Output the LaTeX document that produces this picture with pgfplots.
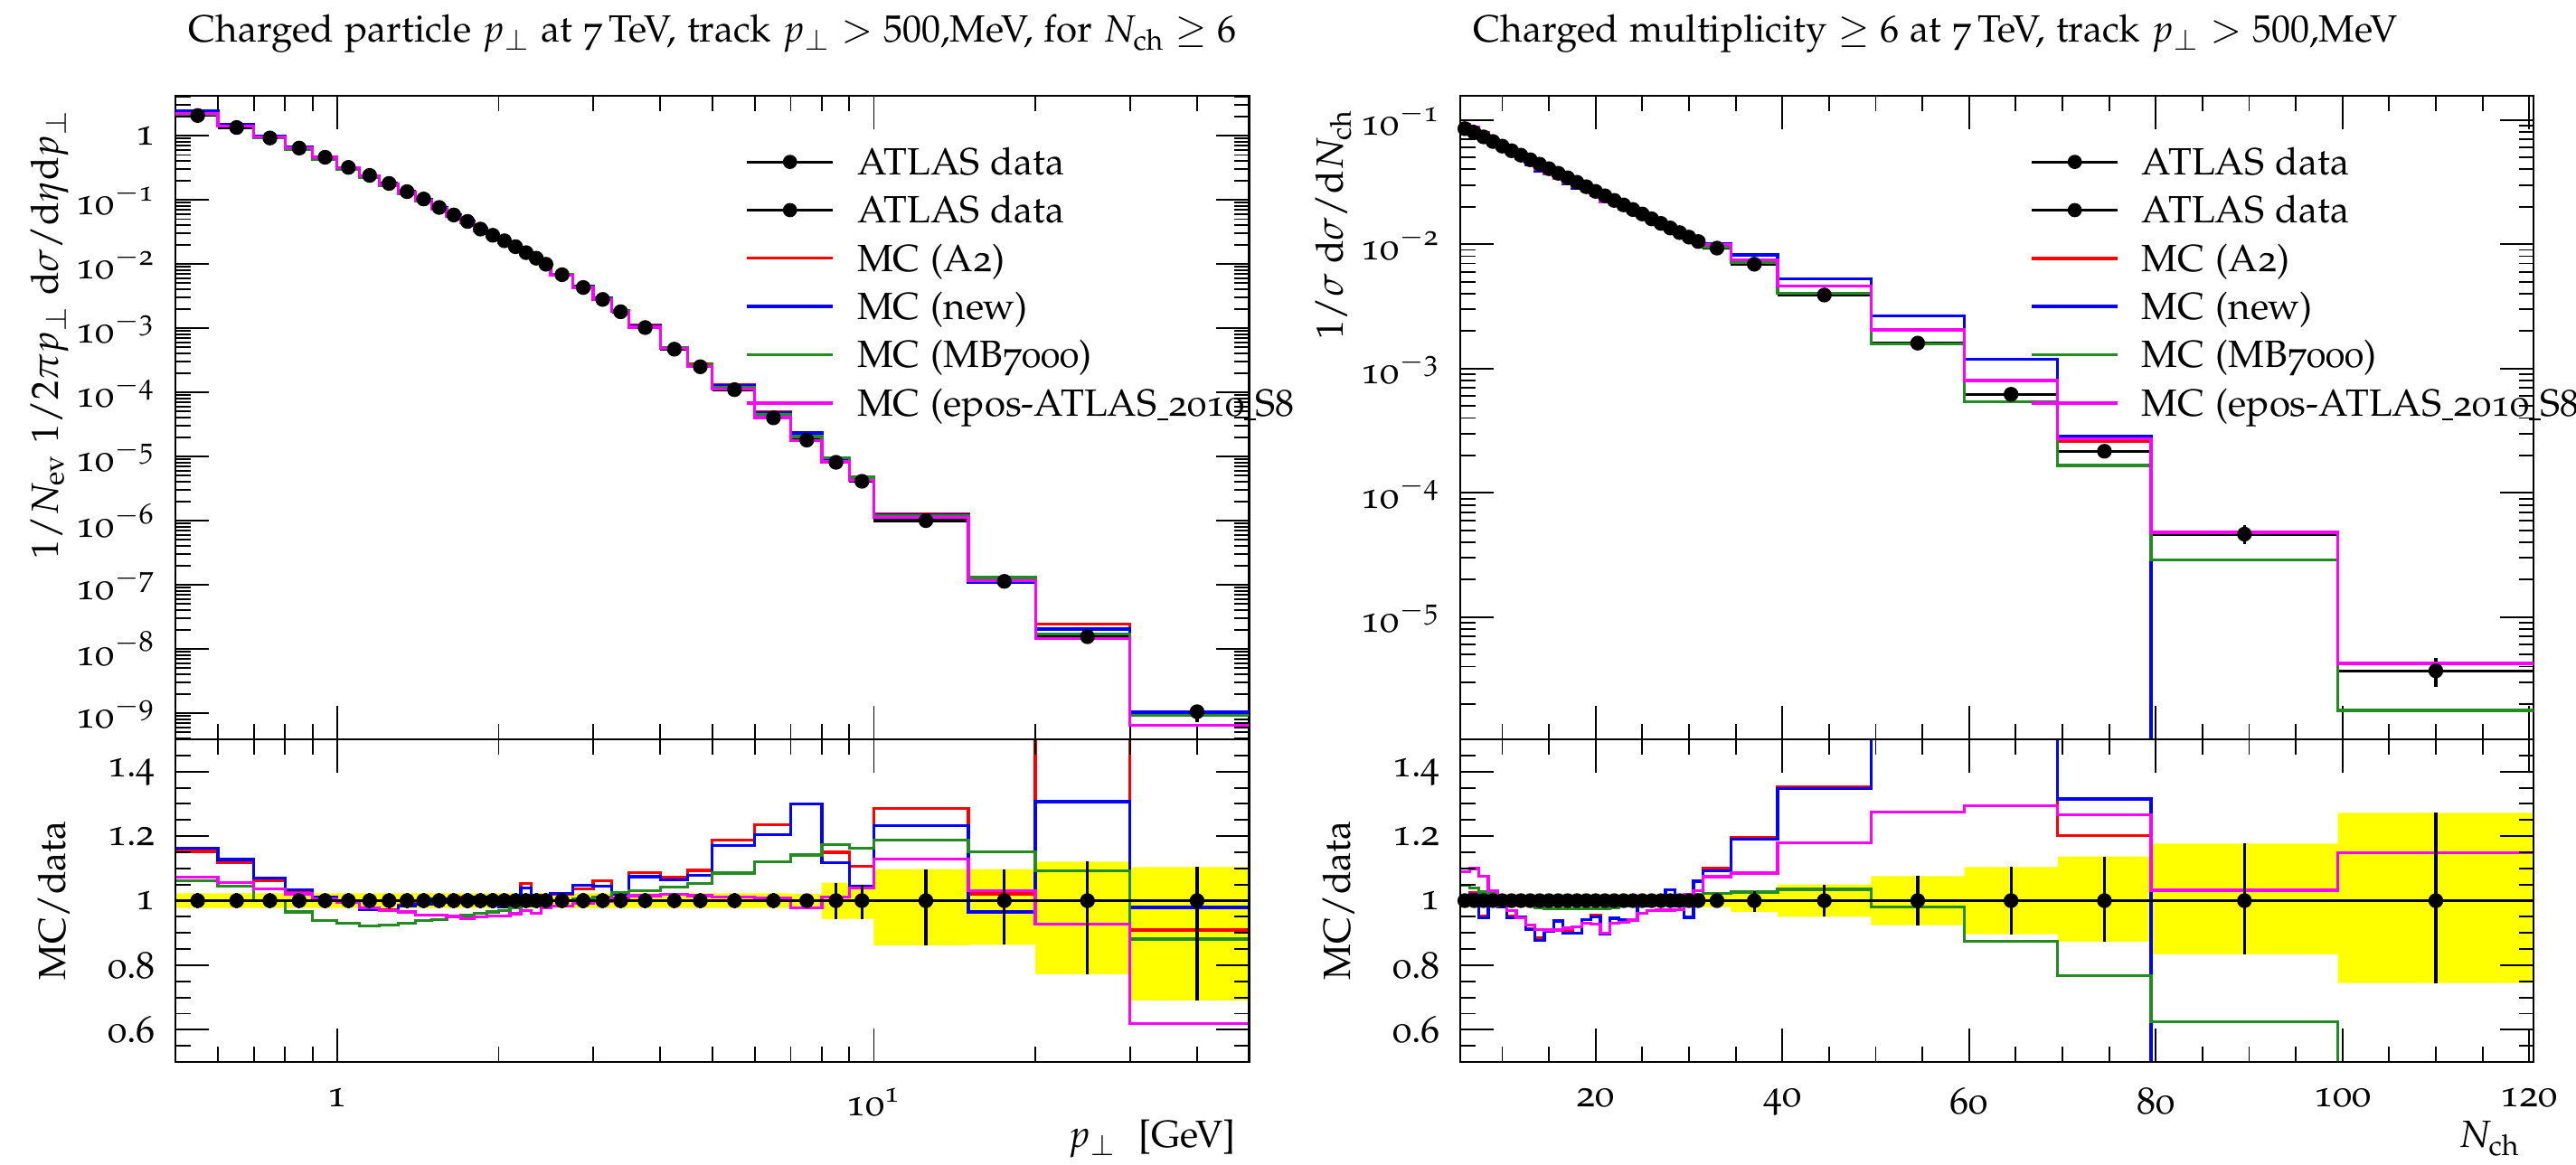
\documentclass[border=0pt]{standalone}
\usepackage[T1]{fontenc}
\usepackage[osf]{mathpazo}
\usepackage{pgfplots}
\usepackage{pgfplotstable}
\pgfplotsset{compat=1.18}
\definecolor{mcred}{RGB}{255,0,0}
\definecolor{mcblue}{RGB}{0,0,255}
\definecolor{mcgreen}{RGB}{34,139,34}
\definecolor{mcmag}{RGB}{255,0,255}
\definecolor{band}{RGB}{255,255,0}
\newcommand\us{\rule[-0.12em]{0.3em}{0.045em}}
\newcommand\tp[1]{10\textsuperscript{$-$#1}}

% ---- pT spectrum (left) ----
% MC histograms, lower bin edge (last row closes the last bin)
\pgfplotstableread{
lo    a2        nw        mb        eo
0.5   2.375     2.394     2.186     2.210
0.6   1.499     1.510     1.399     1.415
0.7   0.976     0.984     0.920     0.954
0.8   0.656     0.661     0.618     0.653
0.9   0.4655    0.4655    0.432     0.462
1.0   0.320     0.320     0.2976    0.3184
1.1   0.234     0.2333    0.2213    0.2345
1.2   0.175     0.1744    0.1665    0.1744
1.3   0.1321    0.1319    0.1246    0.1293
1.4   0.102     0.1018    0.0967    0.0985
1.5   0.0762    0.0765    0.0715    0.0726
1.6   0.0579    0.0578    0.0550    0.0552
1.7   0.0465    0.0461    0.0439    0.0434
1.8   0.0353    0.0354    0.0336    0.0333
1.9   0.0280    0.0279    0.0270    0.0267
2.0   0.0228    0.0226    0.0223    0.0219
2.1   0.01875   0.01866   0.01817   0.01784
2.2   0.01581   0.0156    0.01476   0.01455
2.3   0.01245   0.0124    0.01215   0.01181
2.4   0.01005   0.00996   0.00983   0.00969
2.5   0.00693   0.00696   0.0068    0.00669
2.75  0.004455  0.004506  0.004326  0.004261
3.0   0.002971  0.002926  0.002834  0.002794
3.25  0.001843  0.001836  0.001847  0.001813
3.5   0.001109  0.001095  0.001052  0.001035
4.0   5.03e-4   5.01e-4   4.90e-4   4.79e-4
4.5   2.735e-4  2.695e-4  2.635e-4  2.538e-4
5     1.306e-4  1.288e-4  1.194e-4  1.112e-4
6     4.94e-5   4.82e-5   4.48e-5   4.04e-5
7     2.34e-5   2.34e-5   2.054e-5  1.76e-5
8     9.32e-6   9.05e-6   9.5e-6    8.2e-6
9     4.54e-6   4.28e-6   4.76e-6   4.26e-6
10    1.286e-6  1.232e-6  1.187e-6  1.129e-6
15    1.154e-7  1.09e-7   1.302e-7  1.165e-7
20    2.45e-8   2.03e-8   1.69e-8   1.44e-8
30    9.5e-10   1.03e-9   9.25e-10  6.5e-10
50    9.5e-10   1.03e-9   9.25e-10  6.5e-10
}\ptmc

\pgfplotstableread{
lo    a2     nw     mb     eo     bl     bh
0.5   1.153  1.162  1.061  1.073  0.977  1.023
0.6   1.119  1.127  1.044  1.056  0.977  1.023
0.7   1.061  1.070  1.000  1.037  0.977  1.023
0.8   1.025  1.033  0.965  1.021  0.977  1.023
0.9   1.012  1.012  0.939  1.005  0.977  1.023
1.0   1.000  1.000  0.930  0.995  0.977  1.023
1.1   0.975  0.972  0.922  0.977  0.977  1.023
1.2   0.972  0.969  0.925  0.969  0.977  1.023
1.3   0.986  0.984  0.930  0.965  0.977  1.023
1.4   0.990  0.988  0.939  0.956  0.977  1.023
1.5   1.003  1.006  0.941  0.955  0.977  1.023
1.6   0.998  0.996  0.949  0.951  0.977  1.023
1.7   1.010  1.003  0.954  0.944  0.977  1.023
1.8   1.008  1.010  0.961  0.950  0.977  1.023
1.9   1.000  0.996  0.965  0.952  0.977  1.023
2.0   0.991  0.981  0.970  0.953  0.977  1.023
2.1   1.008  1.003  0.977  0.959  0.977  1.023
2.2   1.054  1.040  0.984  0.970  0.977  1.023
2.3   1.012  1.008  0.988  0.960  0.977  1.023
2.4   1.015  1.006  0.993  0.979  0.977  1.023
2.5   1.019  1.023  1.000  0.984  0.977  1.023
2.75  1.036  1.048  1.006  0.991  0.977  1.023
3.0   1.061  1.045  1.012  0.998  0.977  1.023
3.25  1.024  1.020  1.026  1.007  0.977  1.023
3.5   1.087  1.074  1.031  1.015  0.977  1.023
4.0   1.071  1.065  1.042  1.019  0.977  1.023
4.5   1.094  1.078  1.054  1.015  0.977  1.023
5     1.187  1.171  1.085  1.011  0.977  1.023
6     1.235  1.204  1.120  1.009  0.977  1.023
7     1.300  1.300  1.141  0.978  0.979  1.021
8     1.150  1.117  1.173  1.012  0.943  1.056
9     1.107  1.045  1.162  1.040  0.944  1.050
10    1.286  1.232  1.187  1.129  0.861  1.098
15    1.021  0.965  1.152  1.031  0.863  1.098
20    1.580  1.307  1.093  0.928  0.772  1.121
30    0.909  0.979  0.881  0.620  0.690  1.104
50    0.909  0.979  0.881  0.620  0.690  1.104
}\ptratio

% data: centre, half width, value, errors (+,-), ratio errors (+,-)
\pgfplotstableread{
x      dx     y        ep        em        one  rp     rm
0.55   0.05   2.06     0.047     0.047     1    0.023  0.023
0.65   0.05   1.34     0.031     0.031     1    0.023  0.023
0.75   0.05   0.92     0.021     0.021     1    0.023  0.023
0.85   0.05   0.64     0.015     0.015     1    0.023  0.023
0.95   0.05   0.46     0.011     0.011     1    0.023  0.023
1.05   0.05   0.32     0.0074    0.0074    1    0.023  0.023
1.15   0.05   0.24     0.0055    0.0055    1    0.023  0.023
1.25   0.05   0.18     0.0041    0.0041    1    0.023  0.023
1.35   0.05   0.134    0.0031    0.0031    1    0.023  0.023
1.45   0.05   0.103    0.0024    0.0024    1    0.023  0.023
1.55   0.05   0.076    0.0017    0.0017    1    0.023  0.023
1.65   0.05   0.058    0.0013    0.0013    1    0.023  0.023
1.75   0.05   0.046    0.0011    0.0011    1    0.023  0.023
1.85   0.05   0.035    0.0008    0.0008    1    0.023  0.023
1.95   0.05   0.028    0.00064   0.00064   1    0.023  0.023
2.05   0.05   0.023    0.00053   0.00053   1    0.023  0.023
2.15   0.05   0.0186   0.00043   0.00043   1    0.023  0.023
2.25   0.05   0.015    0.00035   0.00035   1    0.023  0.023
2.35   0.05   0.0123   0.00028   0.00028   1    0.023  0.023
2.45   0.05   0.0099   0.00023   0.00023   1    0.023  0.023
2.625  0.125  0.0068   0.00016   0.00016   1    0.023  0.023
2.875  0.125  0.0043   0.0001    0.0001    1    0.023  0.023
3.125  0.125  0.0028   6.4e-5    6.4e-5    1    0.023  0.023
3.375  0.125  0.0018   4.1e-5    4.1e-5    1    0.023  0.023
3.75   0.25   0.00102  2.3e-5    2.3e-5    1    0.023  0.023
4.25   0.25   4.7e-4   1.1e-5    1.1e-5    1    0.023  0.023
4.75   0.25   2.5e-4   5.8e-6    5.8e-6    1    0.023  0.023
5.5    0.5    1.1e-4   2.5e-6    2.5e-6    1    0.023  0.023
6.5    0.5    4.0e-5   9.2e-7    9.2e-7    1    0.023  0.023
7.5    0.5    1.8e-5   4.1e-7    4.1e-7    1    0.021  0.021
8.5    0.5    8.1e-6   4.6e-7    4.6e-7    1    0.056  0.057
9.5    0.5    4.1e-6   2.1e-7    2.3e-7    1    0.050  0.056
12.5   2.5    1.0e-6   9.8e-8    1.39e-7   1    0.098  0.139
17.5   2.5    1.13e-7  1.1e-8    1.55e-8   1    0.098  0.137
25     5      1.55e-8  1.9e-9    3.5e-9    1    0.121  0.228
40     10     1.05e-9  1.1e-10   3.3e-10   1    0.104  0.310
}\ptdata

% ---- multiplicity (right) ----
\pgfplotstableread{
lo     a2        nw        mb        eo
5.5    0.0862    0.0859    0.0891    0.0926
6.5    0.0810    0.0806    0.0821    0.0868
7.5    0.0695    0.0691    0.0750    0.0785
8.5    0.0663    0.0663    0.0685    0.0690
9.5    0.0606    0.0603    0.0620    0.0606
10.5   0.0538    0.0535    0.0567    0.0548
11.5   0.0494    0.0494    0.0517    0.0492
12.5   0.0437    0.0435    0.0473    0.0442
13.5   0.0389    0.0386    0.0430    0.0400
14.5   0.0367    0.0367    0.0395    0.0368
15.5   0.0349    0.0349    0.0362    0.0338
16.5   0.0310    0.0308    0.0333    0.0313
17.5   0.02835   0.02835   0.0307    0.0289
18.5   0.0273    0.0273    0.02828   0.0270
19.5   0.02540   0.02527   0.0259    0.02468
20.5   0.02205   0.02195   0.02389   0.02205
21.5   0.02126   0.02126   0.0220    0.02093
22.5   0.01950   0.01946   0.02035   0.01929
23.5   0.01782   0.01782   0.01881   0.01786
24.5   0.01724   0.01724   0.0175    0.0168
25.5   0.01584   0.01584   0.01608   0.01552
26.5   0.01477   0.01477   0.01482   0.01427
27.5   0.01396   0.01396   0.01364   0.01311
28.5   0.01221   0.01221   0.01256   0.01205
29.5   0.01081   0.01081   0.01158   0.01163
30.5   0.01113   0.01113   0.01069   0.01082
31.5   0.01016   0.01016   0.0095    0.00999
34.5   0.00821   0.00821   0.00709   0.00749
39.5   0.00526   0.00526   0.00404   0.0046
49.5   0.00264   0.00264   0.00157   0.00204
59.5   1.19e-3   1.19e-3   5.42e-4   8.02e-4
69.5   2.6e-4    2.84e-4   1.66e-4   2.73e-4
79.5   1e-12     1e-12     2.9e-5    4.8e-5
99.5   1e-12     1e-12     1.78e-6   4.25e-6
120.5  1e-12     1e-12     1.78e-6   4.25e-6
}\nmc

\pgfplotstableread{
lo     a2     nw     mb     eo     bl     bh
5.5    1.014  1.010  1.048  1.089  0.980  1.020
6.5    1.025  1.020  1.039  1.099  0.980  1.020
7.5    0.952  0.947  1.027  1.075  0.980  1.020
8.5    0.990  0.990  1.022  1.030  0.980  1.020
9.5    0.985  0.980  1.008  0.985  0.980  1.020
10.5   0.952  0.947  1.004  0.970  0.980  1.020
11.5   0.950  0.950  0.995  0.947  0.980  1.020
12.5   0.914  0.910  0.990  0.924  0.980  1.020
13.5   0.884  0.877  0.978  0.910  0.980  1.020
14.5   0.905  0.905  0.975  0.909  0.980  1.020
15.5   0.937  0.937  0.974  0.909  0.980  1.020
16.5   0.905  0.900  0.974  0.915  0.980  1.020
17.5   0.900  0.900  0.974  0.919  0.980  1.020
18.5   0.942  0.942  0.975  0.930  0.980  1.020
19.5   0.955  0.950  0.974  0.928  0.980  1.020
20.5   0.900  0.896  0.975  0.900  0.980  1.020
21.5   0.945  0.945  0.978  0.930  0.980  1.020
22.5   0.942  0.940  0.983  0.932  0.980  1.020
23.5   0.938  0.938  0.990  0.940  0.980  1.020
24.5   0.985  0.985  1.000  0.960  0.980  1.020
25.5   0.990  0.990  1.005  0.970  0.980  1.020
26.5   1.005  1.005  1.008  0.971  0.980  1.020
27.5   1.034  1.034  1.010  0.971  0.980  1.020
28.5   0.985  0.985  1.013  0.972  0.980  1.020
29.5   0.948  0.948  1.016  1.020  0.980  1.020
30.5   1.060  1.060  1.018  1.030  0.980  1.020
31.5   1.100  1.093  1.022  1.074  0.980  1.020
34.5   1.195  1.190  1.027  1.085  0.965  1.030
39.5   1.352  1.348  1.035  1.180  0.950  1.050
49.5   1.650  1.650  0.980  1.274  0.924  1.076
59.5   1.920  1.920  0.874  1.294  0.896  1.104
69.5   1.202  1.315  0.768  1.266  0.873  1.137
79.5   0      0      0.625  1.032  0.834  1.177
99.5   0      0      0.480  1.149  0.745  1.272
120.5  0      0      0.480  1.149  0.745  1.272
}\nratio

\pgfplotstableread{
x      dx     y        ep        em        one  rp     rm
6      0.5    0.0850   0.0017    0.0017    1    0.02   0.02
7      0.5    0.0790   0.00158   0.00158   1    0.02   0.02
8      0.5    0.0730   0.00146   0.00146   1    0.02   0.02
9      0.5    0.0670   0.00134   0.00134   1    0.02   0.02
10     0.5    0.0615   0.00123   0.00123   1    0.02   0.02
11     0.5    0.0565   0.00113   0.00113   1    0.02   0.02
12     0.5    0.0520   0.00104   0.00104   1    0.02   0.02
13     0.5    0.0478   0.00096   0.00096   1    0.02   0.02
14     0.5    0.0440   0.00088   0.00088   1    0.02   0.02
15     0.5    0.0405   0.00081   0.00081   1    0.02   0.02
16     0.5    0.0372   0.00074   0.00074   1    0.02   0.02
17     0.5    0.0342   0.00068   0.00068   1    0.02   0.02
18     0.5    0.0315   0.00063   0.00063   1    0.02   0.02
19     0.5    0.0290   0.00058   0.00058   1    0.02   0.02
20     0.5    0.0266   0.00053   0.00053   1    0.02   0.02
21     0.5    0.0245   0.00049   0.00049   1    0.02   0.02
22     0.5    0.0225   0.00045   0.00045   1    0.02   0.02
23     0.5    0.0207   0.00041   0.00041   1    0.02   0.02
24     0.5    0.0190   0.00038   0.00038   1    0.02   0.02
25     0.5    0.0175   0.00035   0.00035   1    0.02   0.02
26     0.5    0.0160   0.00032   0.00032   1    0.02   0.02
27     0.5    0.0147   0.00029   0.00029   1    0.02   0.02
28     0.5    0.0135   0.00027   0.00027   1    0.02   0.02
29     0.5    0.0124   0.00025   0.00025   1    0.02   0.02
30     0.5    0.0114   0.00023   0.00023   1    0.02   0.02
31     0.5    0.0105   0.00021   0.00021   1    0.02   0.02
33     1.5    0.0093   0.00019   0.00019   1    0.02   0.02
37     2.5    0.0069   0.00021   0.00024   1    0.03   0.035
44.5   5      0.0039   0.0002    0.0002    1    0.05   0.05
54.5   5      0.0016   0.00012   0.00012   1    0.076  0.076
64.5   5      6.2e-4   6.4e-5    6.4e-5    1    0.104  0.104
74.5   5      2.16e-4  3.0e-5    2.7e-5    1    0.137  0.127
89.5   10     4.65e-5  8.2e-6    7.7e-6    1    0.177  0.166
110    10.5   3.7e-6   1.0e-6    9.4e-7    1    0.272  0.255
}\ndata

\pgfplotsset{
  rivet/.style={
    scale only axis, width=282.7pt,
    tick align=inside, tick pos=both,
    major tick length=8.8pt, minor tick length=4pt,
    every tick/.style={black, line width=0.45pt},
    axis line style={line width=0.5pt},
    yticklabel style={xshift=-1.8pt},
    xticklabel style={yshift=-3.3pt},
    ylabel style={at={(axis description cs:-0.1027,0.5)}, anchor=base},
    title style={at={(0,1)}, anchor=base west, yshift=8.1pt},
    legend image code/.code={\draw[#1] (0pt,3.4pt) -- (22.6pt,3.4pt);},
    legend style={at={(axis description cs:0.5303,0.9198)}, anchor=north west,
      draw=none, fill=none, inner sep=0pt, row sep=3.7pt, column sep=6pt,
      nodes={inner sep=0pt, text height=7pt, text depth=2pt, anchor=base west}},
    legend cell align=left,
  },
  mainylab/.style={ylabel style={at={(axis description cs:-0.1094,1)}, anchor=base east}},
  mc/.style={const plot, no marks, line width=0.8pt},
  bandhi/.style={const plot, draw=none, fill=band, forget plot},
  bandlo/.style={const plot, draw=none, fill=white, forget plot},
  dataleg/.style={legend image code/.code={
      \draw[black, line width=0.75pt] (0pt,3.4pt) -- (22.6pt,3.4pt);
      \fill[black] (11.3pt,3.4pt) circle (1.67pt);}},
  datapts/.style={black, only marks, mark=*, mark size=1.75pt, dataleg,
    error bars/.cd, x dir=both, x explicit, y dir=both, y explicit,
    error mark=none, error bar style={line width=0.75pt, black}},
}

\begin{document}
\begin{tikzpicture}
\useasboundingbox (0,0) rectangle (678.3pt,306.7pt);

% ================= left: main =================
\begin{axis}[rivet, mainylab, at={(46.2pt,111.94pt)}, anchor=south west, height=169.5pt,
  xmode=log, ymode=log, xmin=0.5, xmax=50, ymin=3.9e-10, ymax=4.17,
  xtick={1,10}, xticklabels={},
  minor xtick={0.6,0.7,0.8,0.9,2,3,4,5,6,7,8,9,20,30,40},
  ytick={1e-9,1e-8,1e-7,1e-6,1e-5,1e-4,1e-3,1e-2,1e-1,1},
  yticklabels={\tp9,\tp8,\tp7,\tp6,\tp5,\tp4,\tp3,\tp2,\tp1,1},
  minor ytick={4e-10,5e-10,6e-10,7e-10,8e-10,9e-10,
    2e-9,3e-9,4e-9,5e-9,6e-9,7e-9,8e-9,9e-9,
    2e-8,3e-8,4e-8,5e-8,6e-8,7e-8,8e-8,9e-8,
    2e-7,3e-7,4e-7,5e-7,6e-7,7e-7,8e-7,9e-7,
    2e-6,3e-6,4e-6,5e-6,6e-6,7e-6,8e-6,9e-6,
    2e-5,3e-5,4e-5,5e-5,6e-5,7e-5,8e-5,9e-5,
    2e-4,3e-4,4e-4,5e-4,6e-4,7e-4,8e-4,9e-4,
    2e-3,3e-3,4e-3,5e-3,6e-3,7e-3,8e-3,9e-3,
    2e-2,3e-2,4e-2,5e-2,6e-2,7e-2,8e-2,9e-2,
    0.2,0.3,0.4,0.5,0.6,0.7,0.8,0.9,2,3,4},
  title={Charged particle $p_\perp$ at 7\,TeV, track $p_\perp > 500$,MeV, for $N_\mathrm{ch} \geq 6$},
  ylabel={$1/N_\mathrm{ev}\;1/2\pi p_\perp\;\mathrm{d}\sigma/\mathrm{d}\eta\mathrm{d}p_\perp$},
]
\addplot[datapts] table[x=x, y=y, x error plus=dx, x error minus=dx, y error plus=ep, y error minus=em]{\ptdata};
\addlegendentry{ATLAS data}
\addlegendimage{dataleg}
\addlegendentry{ATLAS data}
\addplot[mc, mcred] table[x=lo, y=a2]{\ptmc};
\addlegendentry{MC (A2)}
\addplot[mc, mcblue] table[x=lo, y=nw]{\ptmc};
\addlegendentry{MC (new)}
\addplot[mc, mcgreen] table[x=lo, y=mb]{\ptmc};
\addlegendentry{MC (MB7000)}
\addplot[mc, mcmag] table[x=lo, y=eo]{\ptmc};
\addlegendentry{MC (epos-ATLAS\us2010\us S8}
\end{axis}

% ================= left: ratio =================
\begin{axis}[rivet, axis on top, at={(46.2pt,111.94pt)}, anchor=north west, height=85pt,
  xmode=log, xmin=0.5, xmax=50, ymin=0.5, ymax=1.5,
  xtick={1,10}, xticklabels={1,10\textsuperscript{1}},
  minor xtick={0.6,0.7,0.8,0.9,2,3,4,5,6,7,8,9,20,30,40},
  ytick={0.6,0.8,1,1.2,1.4}, yticklabels={0.6,0.8,1,1.2,1.4},
  minor ytick={0.55,0.65,0.7,0.75,0.85,0.9,0.95,1.05,1.1,1.15,1.25,1.3,1.35,1.45},
  ylabel={MC/data},
  xlabel={$p_\perp$\ \ [GeV]},
  xlabel style={at={(axis description cs:1,0)}, anchor=base east, yshift=-22.6pt},
]
\addplot[bandhi] table[x=lo, y=bh]{\ptratio} \closedcycle;
\addplot[bandlo] table[x=lo, y=bl]{\ptratio} \closedcycle;
\addplot[mc, mcred] table[x=lo, y=a2]{\ptratio};
\addplot[mc, mcblue] table[x=lo, y=nw]{\ptratio};
\addplot[mc, mcgreen] table[x=lo, y=mb]{\ptratio};
\addplot[mc, mcmag] table[x=lo, y=eo]{\ptratio};
\addplot[datapts] table[x=x, y=one, x error plus=dx, x error minus=dx, y error plus=rp, y error minus=rm]{\ptdata};
\end{axis}

% ================= right: main =================
\begin{axis}[rivet, mainylab, at={(384.5pt,111.94pt)}, anchor=south west, height=169.5pt,
  ymode=log, xmin=5.5, xmax=120.5, ymin=1.04e-6, ymax=0.156,
  xtick={20,40,60,80,100,120}, xticklabels={},
  minor xtick={10,15,25,30,35,45,50,55,65,70,75,85,90,95,105,110,115},
  ytick={1e-5,1e-4,1e-3,1e-2,1e-1},
  yticklabels={\tp5,\tp4,\tp3,\tp2,\tp1},
  minor ytick={2e-6,3e-6,4e-6,5e-6,6e-6,7e-6,8e-6,9e-6,
    2e-5,3e-5,4e-5,5e-5,6e-5,7e-5,8e-5,9e-5,
    2e-4,3e-4,4e-4,5e-4,6e-4,7e-4,8e-4,9e-4,
    2e-3,3e-3,4e-3,5e-3,6e-3,7e-3,8e-3,9e-3,
    2e-2,3e-2,4e-2,5e-2,6e-2,7e-2,8e-2,9e-2},
  title={Charged multiplicity $\geq 6$ at 7\,TeV, track $p_\perp > 500$,MeV},
  ylabel={$1/\sigma\;\mathrm{d}\sigma/\mathrm{d}N_\mathrm{ch}$},
]
\addplot[datapts] table[x=x, y=y, x error plus=dx, x error minus=dx, y error plus=ep, y error minus=em]{\ndata};
\addlegendentry{ATLAS data}
\addlegendimage{dataleg}
\addlegendentry{ATLAS data}
\addplot[mc, mcred] table[x=lo, y=a2]{\nmc};
\addlegendentry{MC (A2)}
\addplot[mc, mcblue] table[x=lo, y=nw]{\nmc};
\addlegendentry{MC (new)}
\addplot[mc, mcgreen] table[x=lo, y=mb]{\nmc};
\addlegendentry{MC (MB7000)}
\addplot[mc, mcmag] table[x=lo, y=eo]{\nmc};
\addlegendentry{MC (epos-ATLAS\us2010\us S8}
\end{axis}

% ================= right: ratio =================
\begin{axis}[rivet, axis on top, at={(384.5pt,111.94pt)}, anchor=north west, height=85pt,
  xmin=5.5, xmax=120.5, ymin=0.5, ymax=1.5,
  xtick={20,40,60,80,100,120}, xticklabels={20,40,60,80,100,120},
  minor xtick={10,15,25,30,35,45,50,55,65,70,75,85,90,95,105,110,115},
  ytick={0.6,0.8,1,1.2,1.4}, yticklabels={0.6,0.8,1,1.2,1.4},
  minor ytick={0.55,0.65,0.7,0.75,0.85,0.9,0.95,1.05,1.1,1.15,1.25,1.3,1.35,1.45},
  ylabel={MC/data},
  xlabel={$N_\mathrm{ch}$},
  xlabel style={at={(axis description cs:1,0)}, anchor=base east, yshift=-22.6pt},
]
\addplot[bandhi] table[x=lo, y=bh]{\nratio} \closedcycle;
\addplot[bandlo] table[x=lo, y=bl]{\nratio} \closedcycle;
\addplot[mc, mcred] table[x=lo, y=a2]{\nratio};
\addplot[mc, mcblue] table[x=lo, y=nw]{\nratio};
\addplot[mc, mcgreen] table[x=lo, y=mb]{\nratio};
\addplot[mc, mcmag] table[x=lo, y=eo]{\nratio};
\addplot[datapts] table[x=x, y=one, x error plus=dx, x error minus=dx, y error plus=rp, y error minus=rm]{\ndata};
\end{axis}
\end{tikzpicture}
\end{document}
